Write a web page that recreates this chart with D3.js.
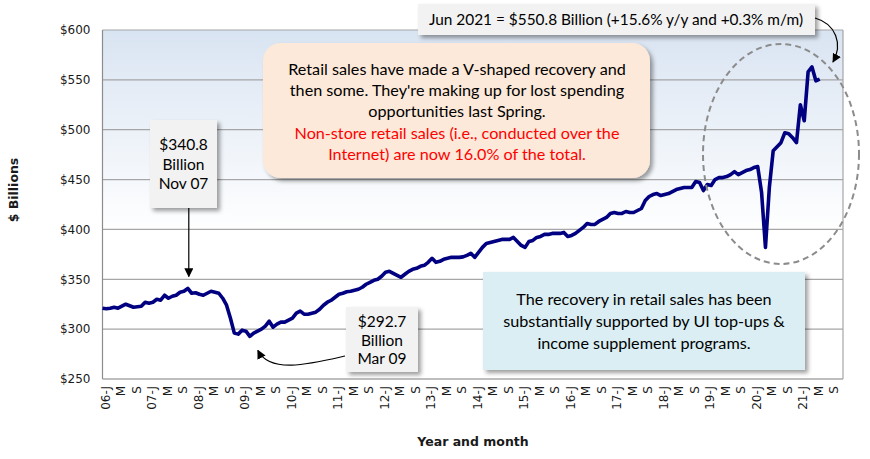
<!DOCTYPE html>
<html><head><meta charset="utf-8">
<script src="https://cdn.jsdelivr.net/npm/d3@7"></script>
<style>body{margin:0;background:#fff} svg{display:block}</style>
</head><body><svg id="c" width="870" height="459"></svg>
<script>
// ---- data ----
const yearLabels = ["06","07","08","09","10","11","12","13","14","15","16","17","18","19","20","21"];
const monthLetters = ["J","F","M","A","M","J","J","A","S","O","N","D"];
// monthly categories Jan 2006 .. Dec 2021
const categories = [];
yearLabels.forEach(y => monthLetters.forEach((m, k) => categories.push({year: y, month: k, letter: m})));
// tick labels shown every 4 months
const tickIndex = d3.range(0, categories.length, 4);
const tickLabels = tickIndex.map(i => categories[i].month === 0 ? categories[i].year + "-J" : categories[i].letter);
// retail sales, $ billions, Jan 2006 .. Jun 2021
const sales2006_2009 = [
  321,320.5,321,322,321,323,325,323.5,322,322.5,323,327,
  326,327,330,329,334,331,333,334,337,338,340.8,336,
  336.5,335,334,336,338,337,336,331,324,311,296,295,
  299,298,292.7,296,298,300,303,308,302,305,307,307];
const sales2010_2014 = [
  309,311,316,318,315,315,316,317,320,324,327,329,
  332,335,336,337.5,338,339,340,342,345,347,349,350,
  353,357,358,356,354,352,355,358,360,361,363,364,
  367,371,367,368,370,371,372,372,372,372.5,374,376,
  372,377,382,386,387,388,389,390,390,390,392,388];
const sales2015_2019 = [
  384,382,388,389,392,393,395,395,396,396,396,397,
  393,394,396,399,402,406,405,405,408,410,412,416,
  417,416,416,418,417,417,419,421,429,433,435,436,
  434,435,436,438,440,441,442,442,442,448,447,439,
  445,444,450,452,452,453,455,458,455,457,459,460];
const sales2020_2021 = [
  462,463,437,382,442,479,483,487,497,496,492,487,
  525,509,558,563,549,550.8];
const sales = [...sales2006_2009, ...sales2010_2014, ...sales2015_2019, ...sales2020_2021];
const yTicks = [250,300,350,400,450,500,550,600];

// ---- layout ----
const svg = d3.select("#c");
const L = 102.5, R = 843, T = 30, B = 379;
const x = d3.scalePoint().domain(d3.range(categories.length)).range([L, R]);
const y = d3.scaleLinear().domain([250, 600]).range([B, T]);

const defs = svg.append("defs");
const g = defs.append("linearGradient").attr("id","bg").attr("x1",0).attr("y1",0).attr("x2",0).attr("y2",1);
g.append("stop").attr("offset","0%").attr("stop-color","#d9e4f2");
g.append("stop").attr("offset","58%").attr("stop-color","#ffffff");
g.append("stop").attr("offset","100%").attr("stop-color","#ffffff");
const f = defs.append("filter").attr("id","sh").attr("x","-10%").attr("y","-10%").attr("width","130%").attr("height","140%");
f.append("feDropShadow").attr("dx",3).attr("dy",3).attr("stdDeviation",2).attr("flood-color","#000").attr("flood-opacity",0.38);
defs.append("marker").attr("id","ah").attr("viewBox","0 0 10 10").attr("refX",9).attr("refY",5)
  .attr("markerWidth",9).attr("markerHeight",9).attr("orient","auto-start-reverse").attr("markerUnits","userSpaceOnUse")
  .append("path").attr("d","M0,0 L10,5 L0,10 z").attr("fill","#000");

// plot background
svg.append("rect").attr("x",L).attr("y",T).attr("width",R-L).attr("height",B-T).attr("fill","url(#bg)");

// grid
svg.append("g").selectAll("line").data(yTicks).join("line")
  .attr("x1",L).attr("x2",R).attr("y1",d=>y(d)).attr("y2",d=>y(d))
  .attr("stroke",d=> d===250 ? "#7f7f7f" : "#a6a6a6").attr("stroke-width",1.2);
svg.append("line").attr("x1",L).attr("x2",L).attr("y1",T).attr("y2",B).attr("stroke","#8c8c8c").attr("stroke-width",1.2);
svg.append("line").attr("x1",R).attr("x2",R).attr("y1",T).attr("y2",B).attr("stroke","#a6a6a6").attr("stroke-width",1.2);

// y axis
const ya = svg.append("g").attr("transform",`translate(${L},0)`)
  .call(d3.axisLeft(y).tickValues(yTicks).tickFormat(d=>"$"+d).tickSize(0).tickPadding(12));
ya.select(".domain").remove();
ya.selectAll("text").attr("font-family","DejaVu Sans").attr("font-size","12px").attr("fill","#1a1a1a");

// x axis
const xa = svg.append("g").attr("transform",`translate(0,${B})`)
  .call(d3.axisBottom(x).tickValues(tickIndex).tickFormat((d,i)=>tickLabels[i]).tickSize(0));
xa.select(".domain").remove();
xa.selectAll("text").attr("font-family","DejaVu Sans").attr("font-size","12px").attr("fill","#1a1a1a")
  .attr("transform","rotate(-90)").attr("text-anchor","end").attr("x",-7).attr("y",0).attr("dy","0.55em");

// axis titles
svg.append("text").attr("transform","translate(18,190) rotate(-90)").attr("text-anchor","middle")
  .attr("font-family","DejaVu Sans").attr("font-weight","bold").attr("font-size","12.5px").attr("fill","#1a1a1a").text("$ Billions");
svg.append("text").attr("x",473).attr("y",446).attr("text-anchor","middle")
  .attr("font-family","DejaVu Sans").attr("font-weight","bold").attr("font-size","12.5px").attr("fill","#1a1a1a").text("Year and month");

// line
svg.append("path").datum(sales)
  .attr("d", d3.line().x((d,i)=>x(i)).y(d=>y(d)))
  .attr("fill","none").attr("stroke","#000080").attr("stroke-width",3.6).attr("stroke-linejoin","round");

// ---- annotations ----
const fnt = "Lato";
function box(x0,y0,w,h,fill,rx){
  svg.append("rect").attr("x",x0).attr("y",y0).attr("width",w).attr("height",h).attr("rx",rx||0)
    .attr("fill",fill).attr("filter","url(#sh)");
}
function lines(cx, ys, txts, color, size){
  txts.forEach((t,k)=> svg.append("text").attr("x",cx).attr("y",ys[k]).attr("text-anchor","middle")
    .attr("font-family",fnt).attr("font-size",(size||15)+"px").attr("fill",color[k]||color[0]).text(t));
}
// dashed ellipse
svg.append("ellipse").attr("cx",781).attr("cy",154).attr("rx",78).attr("ry",110)
  .attr("fill","none").attr("stroke","#8c8c8c").attr("stroke-width",2).attr("stroke-dasharray","6,4");

// top box
box(418,4,397,31,"#f2f2f2");
lines(616,[25],["Jun 2021 = $550.8 Billion (+15.6% y/y and +0.3% m/m)"],["#000"],15.4);
svg.append("path").attr("d","M815,18 C836,24 843,44 833,62").attr("fill","none").attr("stroke","#000").attr("stroke-width",1.2).attr("marker-end","url(#ah)");

// peach box
box(263,43,387,135,"#fde9d9",18);
lines(457,[75,96,117,139,160],[
  "Retail sales have made a V-shaped recovery and",
  "then some. They're making up for lost spending",
  "opportunities last Spring.",
  "Non-store retail sales (i.e., conducted over the",
  "Internet) are now 16.0% of the total."],["#000","#000","#000","#ff0000","#ff0000"],16.2);

// Nov 07 box
box(150,120,67,88,"#f2f2f2");
lines(183.5,[150,170,189],["$340.8","Billion","Nov 07"],["#000"],15.5);
svg.append("line").attr("x1",x(22)+1).attr("x2",x(22)+1).attr("y1",208).attr("y2",y(340.8)-12)
  .attr("stroke","#000").attr("stroke-width",1.2).attr("marker-end","url(#ah)");

// Mar 09 box
box(346,307,72,65,"#f2f2f2");
lines(382,[327,346,364],["$292.7","Billion","Mar 09"],["#000"],15.5);
svg.append("path").attr("d",`M345,356 C310,364 270,374 ${x(38)+8},${y(292.7)+14}`).attr("fill","none")
  .attr("stroke","#000").attr("stroke-width",1.2).attr("marker-end","url(#ah)");

// blue box
box(483,272,322,98,"#daeef3");
lines(644,[305,327,349],[
  "The recovery in retail sales has been",
  "substantially supported by UI top-ups &",
  "income supplement programs."],["#000"],16.2);
</script></body></html>
